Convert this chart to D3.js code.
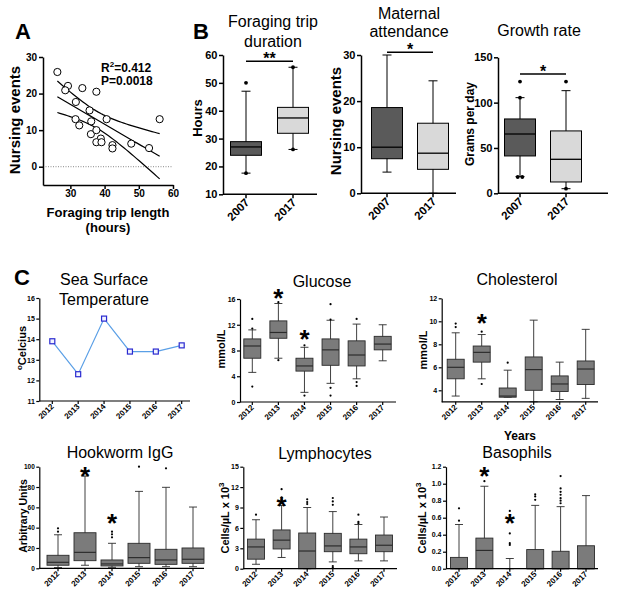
<!DOCTYPE html>
<html>
<head>
<meta charset="utf-8">
<script src="https://cdn.jsdelivr.net/npm/d3@7"></script>
<style>
body { margin: 0; background: #fff; }
svg { display: block; }
text { font-family: Arial, "Liberation Sans", sans-serif; fill: #000; }
</style>
</head>
<body>
<svg id="fig" width="617" height="604"></svg>
<script>
// ---- panel A: nursing events vs foraging trip length ----
const tripLength = [26.2, 29.3, 28.5, 33.5, 37.6, 31.6, 35.6, 31.5, 32.6, 36.1, 40.6, 36.0, 37.6, 38.9, 37.6, 39.1, 42.3, 42.3, 47.8, 53.0, 56.1];
const nursingEvents = [25.9, 22.1, 20.9, 21.5, 20.5, 17.7, 15.4, 13.0, 11.3, 12.4, 13.0, 8.9, 10.0, 7.7, 6.7, 6.7, 5.9, 5.0, 6.3, 5.1, 13.0];

// ---- panel B: box stats are [low whisker, q1, median, q3, high whisker] ----
const groupYears = ["2007", "2017"];
const foragingStats = [[17.6, 24, 27, 28.9, 47], [26.1, 31.9, 37.4, 41.2, 55.6]];
const foragingOut = [[50, 17.6], [55.6, 26.1]];
const attendanceStats = [[4.6, 7.5, 10, 18.6, 30], [0, 5.2, 8.7, 15.2, 24.4]];
const attendanceOut = [[], []];
const growthStats = [[18.4, 41.2, 65.4, 82, 105.5], [5.1, 12.5, 37.5, 68.8, 113.2]];
const growthOut = [[123.2, 105.5, 18, 18], [123.2, 5.1]];

// ---- panel C ----
const years = ["2012", "2013", "2014", "2015", "2016", "2017"];
const sst = [13.9, 12.3, 15.0, 13.4, 13.4, 13.7];

const glucoseStats = [
  [4.6, 6.8, 8.7, 9.8, 11.2],
  [6.8, 9.9, 10.8, 12.6, 15.3],
  [1.5, 4.8, 5.6, 6.8, 8.5],
  [2.9, 5.7, 8.1, 9.8, 12.7],
  [3.6, 5.6, 7.3, 9.5, 12.1],
  [6.4, 8.1, 9.0, 10.2, 12.0]
];
const glucoseOut = [[12.9, 11.4, 2.4], [15.5, 6.5], [8.8, 1.0], [15.2, 12.8, 2.2, 1.0], [12.9, 3.1, 2.5], []];

const cholStats = [
  [3.5, 5.0, 6.0, 6.7, 9.0],
  [5.0, 6.45, 7.3, 7.85, 8.85],
  [3.4, 3.4, 3.5, 4.2, 5.75],
  [3.0, 4.0, 5.8, 6.9, 10.1],
  [3.2, 3.9, 4.55, 5.25, 6.45],
  [3.3, 4.5, 5.85, 6.55, 9.3]
];
const cholOut = [[9.8, 9.5], [9.1, 4.55], [6.4], [], [], []];

const igStats = [
  [0.7, 3, 5.9, 12.8, 33],
  [3, 7.5, 15.7, 35, 90.8],
  [1, 2.3, 4.3, 8.2, 24.6],
  [1.6, 4.9, 10.5, 24.6, 75.7],
  [1.6, 3.9, 8.2, 18.7, 79.7],
  [1.6, 4.9, 8.9, 20, 60.3]
];
const igOut = [[39.3, 36], [], [36, 33.4, 30.5], [100], [98.4], []];

const lymphStats = [
  [0.65, 1.4, 3.2, 4.35, 7.2],
  [1.65, 2.9, 4.2, 5.7, 9.3],
  [0, 0, 2.6, 5.25, 9.0],
  [1.0, 2.5, 3.35, 5.2, 8.4],
  [1.15, 2.2, 3.2, 4.35, 6.5],
  [1.15, 2.5, 3.45, 4.95, 7.6]
];
const lymphOut = [[7.95], [11.7, 10.5, 10.2], [10.2, 9.8, 9.5], [10.4, 9.9, 9.4, 0.4, 0.15], [7.95, 6.9, 6.7], []];

const basoStats = [
  [0, 0, 0, 0.133, 0.52],
  [0, 0, 0.215, 0.36, 0.97],
  [0, 0, 0, 0, 0.12],
  [0, 0, 0, 0.225, 0.745],
  [0, 0, 0, 0.205, 0.73],
  [0, 0, 0, 0.27, 0.86]
];
const basoOut = [[0.71, 0.565], [1.03], [0.68, 0.415, 0.30, 0.28], [0.875, 0.85, 0.81], [1.09, 0.945, 0.905, 0.87, 0.83, 0.8, 0.77], []];

// significance marks: [category index, value at star centre]
const glucoseStars = [[1, 16.6], [2, 10.2]];
const cholStars = [[1, 10.1]];
const igStars = [[1, 93.5], [2, 47]];
const lymphStars = [[1, 9.6]];
const basoStars = [[1, 1.125], [2, 0.57]];

const svg = d3.select("#fig");

function label(x, y, s, size, opt = {}) {
  const t = svg.append("text")
    .attr("x", x).attr("y", y)
    .attr("font-size", size)
    .attr("font-weight", opt.bold ? "bold" : "normal")
    .attr("text-anchor", opt.anchor || "middle");
  if (opt.rotate) t.attr("transform", `rotate(${opt.rotate},${x},${y})`);
  t.text(s);
  return t;
}

// asterisk glyph centre sits about 0.45em above the baseline
function star(x, yc, size, s = "*") {
  label(x, yc + size * 0.45, s, size, { bold: true });
}

function styleAxis(g, size, sw) {
  g.selectAll("text").attr("font-size", size).attr("font-weight", "bold").attr("fill", "#000");
  g.selectAll("line").attr("stroke", "#000").attr("stroke-width", sw);
  g.select(".domain").attr("stroke", "#000").attr("stroke-width", sw);
}

function boxPanel(p) {
  const y = d3.scaleLinear().domain(p.yDomain).range([p.bottom, p.top]);
  const x = d3.scalePoint().domain(p.cats).range(p.centers);
  const g = svg.append("g");
  const hw = p.boxW / 2, cap = p.cap;

  p.stats.forEach((s, i) => {
    const cx = x(p.cats[i]);
    const fill = p.fills[i % p.fills.length];
    g.append("line")
      .attr("x1", cx).attr("x2", cx)
      .attr("y1", y(s[0])).attr("y2", y(s[4]))
      .attr("stroke", p.stroke).attr("stroke-width", p.bw);
    [s[0], s[4]].forEach(v => {
      g.append("line")
        .attr("x1", cx - cap).attr("x2", cx + cap)
        .attr("y1", y(v)).attr("y2", y(v))
        .attr("stroke", p.stroke).attr("stroke-width", p.bw);
    });
    if (s[3] > s[1]) {
      g.append("rect")
        .attr("x", cx - hw).attr("width", p.boxW)
        .attr("y", y(s[3])).attr("height", y(s[1]) - y(s[3]))
        .attr("fill", fill).attr("stroke", p.stroke).attr("stroke-width", p.bw);
      g.append("line")
        .attr("x1", cx - hw).attr("x2", cx + hw)
        .attr("y1", y(s[2])).attr("y2", y(s[2]))
        .attr("stroke", p.stroke).attr("stroke-width", p.bw * 1.3);
    }
  });

  p.out.forEach((vals, i) => {
    const cx = x(p.cats[i]);
    const seen = {};
    vals.forEach(v => {
      const k = seen[v] || 0;
      seen[v] = k + 1;
      const dup = vals.filter(u => u === v).length;
      const dx = dup > 1 ? (k - (dup - 1) / 2) * p.r * 2.4 : 0;
      g.append("circle")
        .attr("cx", cx + dx).attr("cy", y(v)).attr("r", p.r)
        .attr("fill", "#000");
    });
  });

  // y axis
  const ya = svg.append("g")
    .attr("transform", `translate(${p.x0},0)`)
    .call(d3.axisLeft(y).tickValues(p.yTicks).tickSize(p.tick).tickSizeOuter(0)
      .tickPadding(1.5).tickFormat(p.fmt || d3.format("")));
  styleAxis(ya, p.tickFont, p.sw);

  // x axis
  svg.append("line")
    .attr("x1", p.x0).attr("x2", p.x1)
    .attr("y1", p.bottom).attr("y2", p.bottom)
    .attr("stroke", "#000").attr("stroke-width", p.sw);
  p.cats.forEach(c => {
    const cx = x(c);
    svg.append("line")
      .attr("x1", cx).attr("x2", cx)
      .attr("y1", p.bottom).attr("y2", p.bottom + p.tick)
      .attr("stroke", "#000").attr("stroke-width", p.sw);
    label(cx + p.xlDx, p.bottom + p.xlDy, c, p.xFont, { bold: true, anchor: "end", rotate: -45 });
  });

  if (p.stars) p.stars.forEach(([i, v]) => star(x(p.cats[i]), y(v), p.starSize));
  if (p.sig) {
    const [v, s] = p.sig;
    const xa = x(p.cats[0]), xb = x(p.cats[1]);
    svg.append("line")
      .attr("x1", xa).attr("x2", xb).attr("y1", y(v)).attr("y2", y(v))
      .attr("stroke", "#000").attr("stroke-width", 1.5);
    star((xa + xb) / 2, y(v) - 4.5, 16, s);
  }
  return { x, y };
}

// ---- panel letters ----
label(15, 39, "A", 22, { bold: true, anchor: "start" });
label(193, 39, "B", 22, { bold: true, anchor: "start" });
label(14, 285, "C", 22, { bold: true, anchor: "start" });

// ---- A: scatter with regression and 95% band ----
{
  const x = d3.scaleLinear().domain([22, 60]).range([43, 173]);
  const y = d3.scaleLinear().domain([-5, 30]).range([185, 57]);
  const n = tripLength.length;
  const mx = d3.mean(tripLength), my = d3.mean(nursingEvents);
  const sxx = d3.sum(tripLength, v => (v - mx) ** 2);
  const sxy = d3.sum(tripLength, (v, i) => (v - mx) * (nursingEvents[i] - my));
  const b = sxy / sxx, a = my - b * mx;
  const sse = d3.sum(tripLength, (v, i) => (nursingEvents[i] - (a + b * v)) ** 2);
  const se = Math.sqrt(sse / (n - 2)), t = 2.093;
  const [xmin, xmax] = d3.extent(tripLength);
  const xs = d3.range(0, 41).map(k => xmin + (xmax - xmin) * k / 40);
  const band = sgn => xs.map(v => [v, a + b * v + sgn * t * se * Math.sqrt(1 / n + (v - mx) ** 2 / sxx)]);
  const line = d3.line().x(d => x(d[0])).y(d => y(d[1]));

  svg.append("line")
    .attr("x1", 43).attr("x2", 173).attr("y1", y(0)).attr("y2", y(0))
    .attr("stroke", "#888").attr("stroke-width", 1).attr("stroke-dasharray", "1,1.5");
  [band(1), band(0), band(-1)].forEach(d => {
    svg.append("path").datum(d).attr("d", line)
      .attr("fill", "none").attr("stroke", "#000").attr("stroke-width", 1.2);
  });
  svg.append("g").selectAll("circle")
    .data(tripLength.map((v, i) => [v, nursingEvents[i]]))
    .join("circle")
    .attr("cx", d => x(d[0])).attr("cy", d => y(d[1])).attr("r", 3.6)
    .attr("fill", "#fff").attr("stroke", "#000").attr("stroke-width", 1);

  const ya = svg.append("g").attr("transform", "translate(43,0)")
    .call(d3.axisLeft(y).tickValues([0, 10, 20, 30]).tickSize(4).tickSizeOuter(0).tickPadding(2));
  styleAxis(ya, 10, 1.5);
  const xa = svg.append("g").attr("transform", "translate(0,185)")
    .call(d3.axisBottom(x).tickValues([30, 40, 50, 60]).tickSize(4).tickSizeOuter(0).tickPadding(1));
  styleAxis(xa, 10, 1.5);

  const r2 = svg.append("text").attr("x", 101).attr("y", 72).attr("font-size", 12).attr("font-weight", "bold");
  r2.append("tspan").text("R");
  r2.append("tspan").attr("font-size", 8).attr("dy", -5).text("2");
  r2.append("tspan").attr("dy", 5).text("=0.412");
  label(101, 85, "P=0.0018", 12, { bold: true, anchor: "start" });

  label(20, 120, "Nursing events", 15, { bold: true, rotate: -90 });
  label(108, 217, "Foraging trip length", 13, { bold: true });
  label(108, 232, "(hours)", 13, { bold: true });
}

// ---- B: three box plots ----
const bCommon = {
  cats: groupYears, boxW: 31, cap: 4.5, fills: ["#5a5a5a", "#d9d9d9"],
  stroke: "#000", bw: 1, sw: 1.5, r: 1.9, tick: 4, tickFont: 11,
  xFont: 11.5, xlDx: 4, xlDy: 9
};
boxPanel({ ...bCommon, x0: 223, x1: 317, centers: [246, 293], bottom: 194.3, top: 55,
  yDomain: [10, 60], yTicks: [10, 20, 30, 40, 50, 60],
  stats: foragingStats, out: foragingOut, sig: [57.8, "**"] });
boxPanel({ ...bCommon, x0: 361, x1: 456, centers: [387, 433], bottom: 193.3, top: 55,
  yDomain: [0, 30], yTicks: [0, 10, 20, 30],
  stats: attendanceStats, out: attendanceOut, sig: [30.6, "*"] });
boxPanel({ ...bCommon, x0: 498, x1: 608, centers: [520, 566], bottom: 193.3, top: 57.3,
  yDomain: [0, 150], yTicks: [0, 50, 100, 150],
  stats: growthStats, out: growthOut, sig: [131.5, "*"] });

label(273, 27, "Foraging trip", 16);
label(273, 47, "duration", 16);
label(409, 18.5, "Maternal", 16);
label(409, 36.5, "attendance", 16);
label(539, 36, "Growth rate", 16);
label(202, 118, "Hours", 13, { bold: true, rotate: -90 });
label(341, 121, "Nursing events", 15, { bold: true, rotate: -90 });
label(474, 124, "Grams per day", 12, { bold: true, rotate: -90 });

// ---- C: sea surface temperature ----
{
  const x = d3.scalePoint().domain(years).range([52.3, 181.7]);
  const y = d3.scaleLinear().domain([11, 16]).range([401, 298]);
  svg.append("path").datum(sst)
    .attr("d", d3.line().x((d, i) => x(years[i])).y(d => y(d)))
    .attr("fill", "none").attr("stroke", "#5a9fe6").attr("stroke-width", 1.2);
  svg.append("g").selectAll("rect").data(sst).join("rect")
    .attr("x", (d, i) => x(years[i]) - 2.5).attr("y", d => y(d) - 2.5)
    .attr("width", 5).attr("height", 5)
    .attr("fill", "#f2f4ff").attr("stroke", "#2a2ad0").attr("stroke-width", 1.2);
  const ya = svg.append("g").attr("transform", "translate(39.3,0)")
    .call(d3.axisLeft(y).ticks(5).tickSize(3).tickSizeOuter(0).tickPadding(1.5));
  styleAxis(ya, 7, 1.2);
  svg.append("line").attr("x1", 39.3).attr("x2", 190).attr("y1", 401).attr("y2", 401)
    .attr("stroke", "#000").attr("stroke-width", 1.2);
  years.forEach(c => {
    svg.append("line").attr("x1", x(c)).attr("x2", x(c)).attr("y1", 401).attr("y2", 404)
      .attr("stroke", "#000").attr("stroke-width", 1.2);
    label(x(c) + 2, 407, c, 8, { bold: true, anchor: "end", rotate: -45 });
  });
  label(104, 285, "Sea Surface", 16);
  label(104, 305, "Temperature", 16);
  const yl = svg.append("text").attr("font-size", 11).attr("font-weight", "bold")
    .attr("text-anchor", "middle").attr("transform", "translate(26,348) rotate(-90)");
  yl.append("tspan").attr("font-size", 8).attr("dy", -4).text("o");
  yl.append("tspan").attr("dy", 4).text("Celcius");
}

const cCommon = {
  cats: years, cap: 4, fills: ["#7b7b7b"], stroke: "#2b2b2b", bw: 0.9, sw: 1.2,
  r: 1.1, tick: 3, tickFont: 7, xFont: 8, xlDx: 2, xlDy: 6, starSize: 26
};

boxPanel({ ...cCommon, x0: 240, x1: 396, centers: [252.3, 382.7], boxW: 17,
  bottom: 402, top: 299, yDomain: [0, 16], yTicks: [0, 4, 8, 12, 16],
  stats: glucoseStats, out: glucoseOut, stars: glucoseStars });
label(322, 287, "Glucose", 16);
label(225, 349, "mmol/L", 11, { bold: true, rotate: -90 });

boxPanel({ ...cCommon, x0: 441.7, x1: 598, centers: [455.7, 585.7], boxW: 17,
  bottom: 401.8, top: 298.3, yDomain: [3, 12], yTicks: [4, 6, 8, 10, 12],
  stats: cholStats, out: cholOut, stars: cholStars });
label(517, 285, "Cholesterol", 16);
label(427, 350, "mmol/L", 11, { bold: true, rotate: -90 });
label(520, 440, "Years", 12, { bold: true });

boxPanel({ ...cCommon, x0: 39.3, x1: 204, centers: [58, 193], boxW: 22, tickFont: 6.5,
  bottom: 568.3, top: 466.7, yDomain: [0, 100], yTicks: [0, 20, 40, 60, 80, 100],
  stats: igStats, out: igOut, stars: igStars });
label(120, 458, "Hookworm IgG", 16);
label(27, 516, "Arbitrary Units", 10.5, { bold: true, rotate: -90 });

boxPanel({ ...cCommon, x0: 243.3, x1: 397, centers: [256, 384], boxW: 17,
  bottom: 568.7, top: 466.7, yDomain: [0, 15], yTicks: [0, 3, 6, 9, 12, 15],
  stats: lymphStats, out: lymphOut, stars: lymphStars });
label(325, 459, "Lymphocytes", 16);

boxPanel({ ...cCommon, x0: 446, x1: 598, centers: [459, 586], boxW: 17,
  bottom: 568.7, top: 466.7, yDomain: [0, 1.2], yTicks: [0, 0.2, 0.4, 0.6, 0.8, 1.0, 1.2],
  fmt: d3.format(".1f"),
  stats: basoStats, out: basoOut, stars: basoStars });
label(517, 458, "Basophils", 16);

[[229, 518], [426, 518]].forEach(([cx, cy]) => {
  const t = svg.append("text").attr("font-size", 11).attr("font-weight", "bold")
    .attr("text-anchor", "middle").attr("transform", `translate(${cx},${cy}) rotate(-90)`);
  t.append("tspan").text("Cells/\u00b5L x 10");
  t.append("tspan").attr("font-size", 8).attr("dy", -5).text("3");
});
</script>
</body>
</html>
